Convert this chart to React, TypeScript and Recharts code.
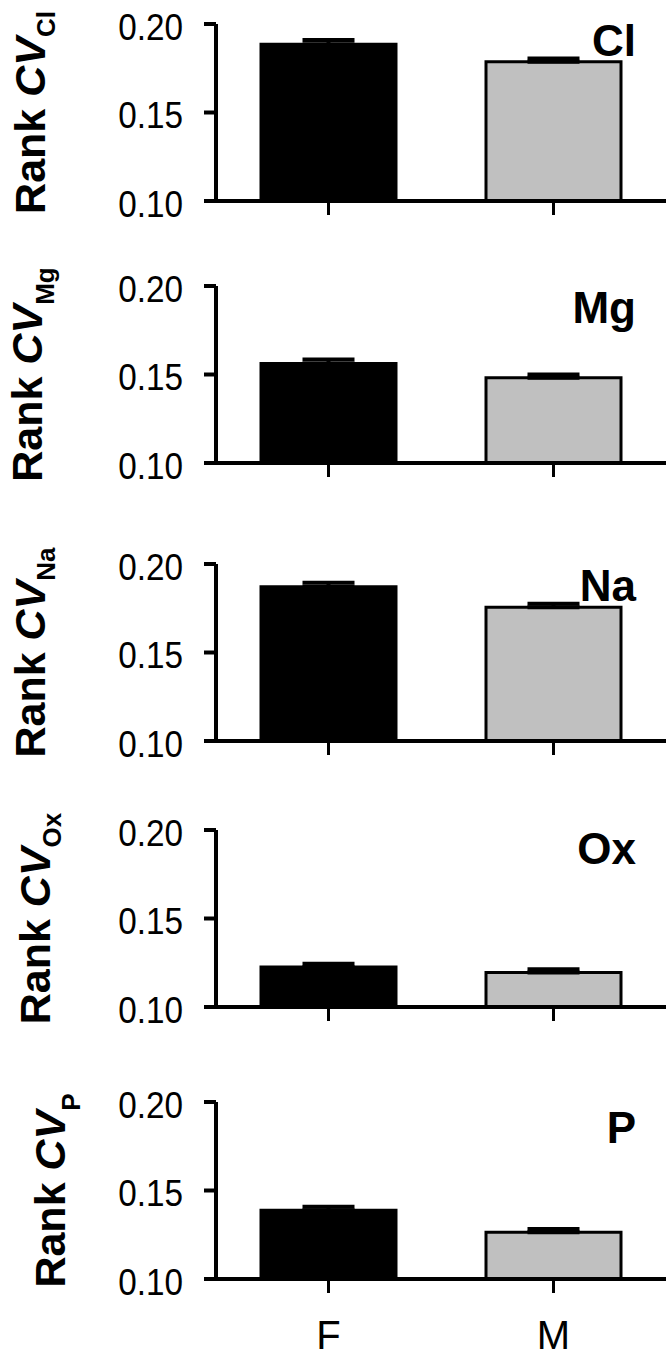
import React from 'react';
import { BarChart, Bar, XAxis, YAxis, ErrorBar, Cell } from 'recharts';

// ---------- data ----------
const elements = ['Cl', 'Mg', 'Na', 'Ox', 'P'];
const sexes = ['F', 'M'];
const femaleMeans = [0.1885, 0.1562, 0.1872, 0.1226, 0.1389];
const maleMeans = [0.1787, 0.1482, 0.1755, 0.1195, 0.1264];
const femaleErr = [0.0024, 0.0023, 0.0022, 0.0019, 0.0019];
const maleErr = [0.0018, 0.0018, 0.002, 0.0018, 0.0018];
const yTicks = [0.1, 0.15, 0.2];
const yDomain = [0.1, 0.2];
const barColors = ['#000000', '#c0c0c0'];

// ---------- layout ----------
const FONT = '"Liberation Sans", Arial, Helvetica, sans-serif';
const PLOT_H = 177;
const TOP_M = 20;
const panelLayout = [
  { top: 24, labelX: 45, titleDy: 32, subDy: 10 },
  { top: 286, labelX: 42, titleDy: 37, subDy: 12 },
  { top: 564, labelX: 45, titleDy: 37, subDy: 10 },
  { top: 830, labelX: 50, titleDy: 34, subDy: 11 },
  { top: 1102, labelX: 65, titleDy: 41, subDy: 15 },
];

const EmptyTick = () => <g />;

const XTick = (props: any) => {
  const { x, y, payload } = props;
  return (
    <text x={x} y={y} dy={54} textAnchor="middle" fontSize={40} fontFamily={FONT} fill="#000">
      {payload.value}
    </text>
  );
};

const YTick = (props: any) => {
  const { x, y, payload } = props;
  return (
    <text
      x={0}
      y={0}
      dy={15.5}
      transform={`translate(${x} ${y}) scale(0.9 1)`}
      textAnchor="end"
      fontSize={37}
      fontFamily={FONT}
      fill="#000"
    >
      {Number(payload.value).toFixed(2)}
    </text>
  );
};

function Panel({ idx }: { idx: number }) {
  const layout = panelLayout[idx];
  const el = elements[idx];
  const data = sexes.map((s, i) => ({
    name: s,
    value: i === 0 ? femaleMeans[idx] : maleMeans[idx],
    err: [0, i === 0 ? femaleErr[idx] : maleErr[idx]],
  }));
  const last = idx === elements.length - 1;
  const xH = last ? 80 : 30;

  const yLabel = () => {
    const cx = layout.labelX;
    const cy = TOP_M + PLOT_H / 2;
    return (
      <text
        x={cx}
        y={cy}
        transform={`rotate(-90, ${cx}, ${cy})`}
        textAnchor="middle"
        fontFamily={FONT}
        fontWeight="bold"
        fontSize={43}
        fill="#000"
      >
        <tspan>Rank </tspan>
        <tspan fontStyle="italic">CV</tspan>
        <tspan fontSize={26} dy={layout.subDy}>{el}</tspan>
      </text>
    );
  };

  const title = () => (
    <text
      x={636}
      y={TOP_M + layout.titleDy}
      textAnchor="end"
      fontFamily={FONT}
      fontWeight="bold"
      fontSize={44}
      fill="#000"
    >
      {el}
    </text>
  );

  return (
    <div style={{ position: 'absolute', left: 0, top: layout.top - TOP_M }}>
      <BarChart
        width={672}
        height={TOP_M + PLOT_H + xH}
        data={data}
        margin={{ top: TOP_M, right: 6, bottom: 0, left: 0 }}
        barCategoryGap="20%"
      >
        <XAxis
          dataKey="name"
          height={xH}
          interval={0}
          axisLine={{ stroke: '#000', strokeWidth: 4 }}
          tickLine={{ stroke: '#000', strokeWidth: 3 }}
          tickSize={14}
          tick={last ? XTick : EmptyTick}
          label={title}
        />
        <YAxis
          type="number"
          width={216}
          domain={yDomain}
          ticks={yTicks}
          allowDataOverflow
          axisLine={{ stroke: '#000', strokeWidth: 4 }}
          tickLine={{ stroke: '#000', strokeWidth: 4 }}
          tickSize={12}
          tickMargin={21}
          tick={YTick}
          label={yLabel}
        />
        <Bar dataKey="value" isAnimationActive={false} stroke="#000" strokeWidth={3}>
          {data.map((d, i) => (
            <Cell key={d.name} fill={barColors[i]} />
          ))}
          <ErrorBar
            dataKey="err"
            direction="y"
            width={26}
            stroke="#000"
            strokeWidth={4}
            isAnimationActive={false}
          />
        </Bar>
      </BarChart>
    </div>
  );
}

export default function App() {
  return (
    <div style={{ position: 'absolute', left: 0, top: 0, width: 672, height: 1359, background: '#fff' }}>
      {elements.map((el, i) => (
        <Panel key={el} idx={i} />
      ))}
    </div>
  );
}
